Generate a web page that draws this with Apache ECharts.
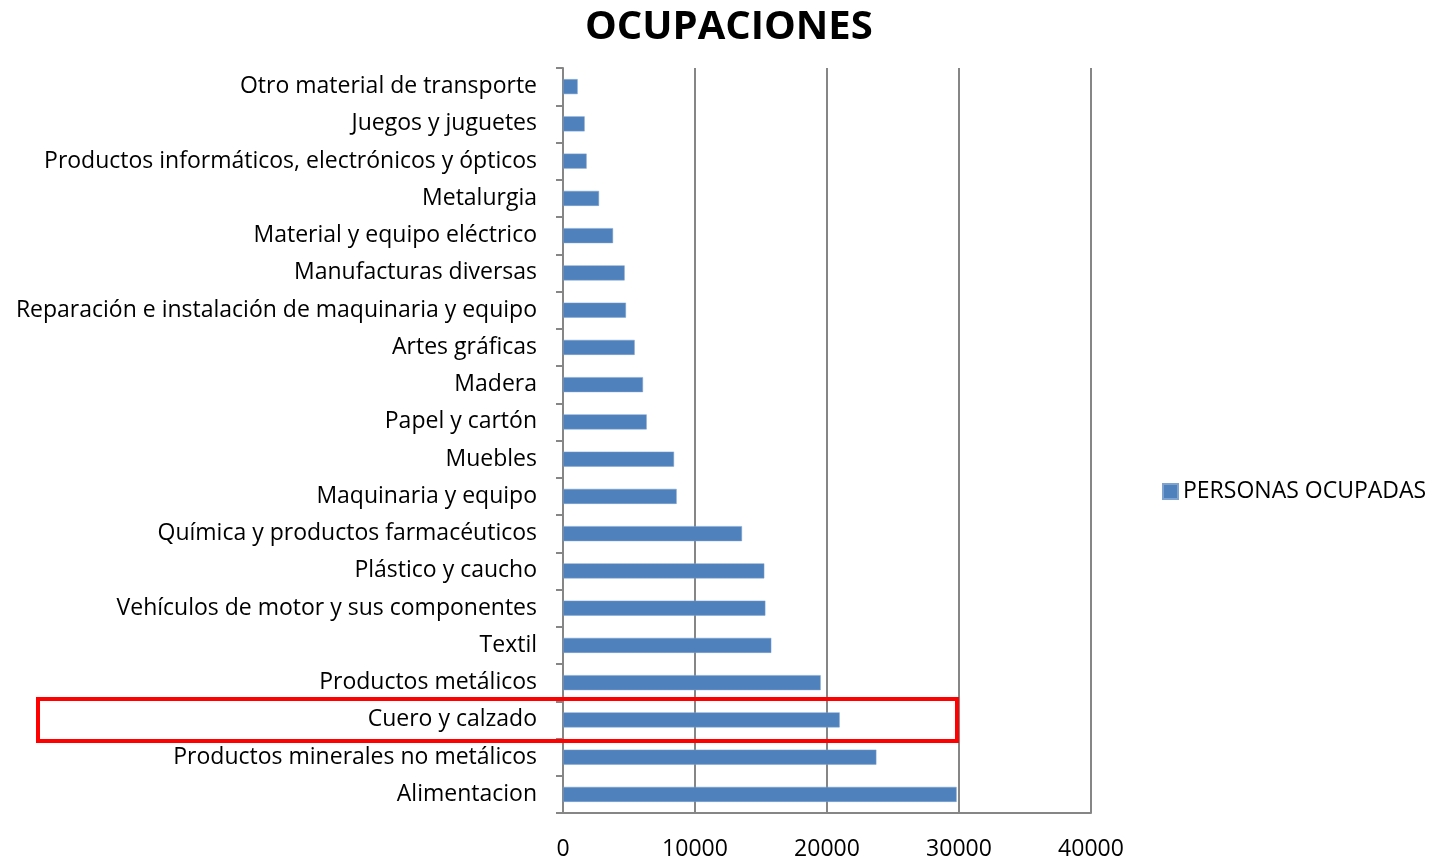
<!DOCTYPE html>
<html>
<head>
<meta charset="utf-8">
<script src="https://cdn.jsdelivr.net/npm/echarts@6/dist/echarts.min.js"></script>
<style>
  html, body { margin: 0; padding: 0; background: #fff; }
  #main { width: 1434px; height: 858px; }
</style>
</head>
<body>
<div id="main"></div>
<script>
// categories listed bottom to top
var categories = [
  'Alimentacion',
  'Productos minerales no metálicos',
  'Cuero y calzado',
  'Productos metálicos',
  'Textil',
  'Vehículos de motor y sus componentes',
  'Plástico y caucho',
  'Química y productos farmacéuticos',
  'Maquinaria y equipo',
  'Muebles',
  'Papel y cartón',
  'Madera',
  'Artes gráficas',
  'Reparación e instalación de maquinaria y equipo',
  'Manufacturas diversas',
  'Material y equipo eléctrico',
  'Metalurgia',
  'Productos informáticos, electrónicos y ópticos',
  'Juegos y juguetes',
  'Otro material de transporte'
];
var ocupadas = [29820, 23740, 20960, 19520, 15780, 15330, 15250, 13560, 8610, 8410,
                6340, 6060, 5430, 4770, 4670, 3790, 2730, 1790, 1640, 1110];
var highlighted = 'Cuero y calzado';

var font = '"Open Sans", Lato, sans-serif';
var chartDom = document.getElementById('main');
var myChart = echarts.init(chartDom);
var option;

option = {
  title: {
    text: 'OCUPACIONES',
    left: 580,
    top: 3,
    textStyle: { fontFamily: font, fontSize: 40, fontWeight: 'bold', color: '#000' }
  },
  legend: {
    orient: 'vertical',
    left: 1157,
    top: 475,
    icon: 'rect',
    itemWidth: 15,
    itemHeight: 15,
    itemGap: 6,
    textStyle: { fontFamily: font, fontSize: 23, color: '#000' },
    data: ['PERSONAS OCUPADAS']
  },
  grid: { left: 563, right: 343, top: 68, bottom: 45, outerBoundsMode: 'none' },
  xAxis: {
    type: 'value',
    min: 0,
    max: 40000,
    interval: 10000,
    axisLine: { show: true, lineStyle: { color: '#868686', width: 2 } },
    axisTick: { show: false },
    splitLine: { show: true, lineStyle: { color: '#868686', width: 2 } },
    axisLabel: {
      fontFamily: font, fontSize: 23, color: '#000', margin: 25,
      formatter: function (v) { return String(v); }
    }
  },
  yAxis: {
    type: 'category',
    data: categories,
    axisLine: { show: true, lineStyle: { color: '#868686', width: 2 } },
    axisTick: { show: true, length: 7, lineStyle: { color: '#868686', width: 2 } },
    axisLabel: { fontFamily: font, fontSize: 23, color: '#000', margin: 26, padding: [5, 0, 0, 0] }
  },
  series: [
    {
      name: 'PERSONAS OCUPADAS',
      type: 'bar',
      data: ocupadas,
      barWidth: 15,
      itemStyle: { color: '#4F81BD', borderColor: '#7FA3CF', borderWidth: 0.5 }
    }
  ]
};
myChart.setOption(option);

// red annotation box around the highlighted category
var yMid = myChart.convertToPixel({ yAxisIndex: 0 }, highlighted);
var xRight = myChart.convertToPixel({ xAxisIndex: 0 }, 30000);
myChart.setOption({
  graphic: [{
    type: 'rect',
    shape: { x: 38, y: yMid - 21, width: xRight - 2 - 38, height: 42 },
    style: { fill: 'none', stroke: '#FF0000', lineWidth: 4 },
    z: 100
  }]
});
</script>
</body>
</html>
